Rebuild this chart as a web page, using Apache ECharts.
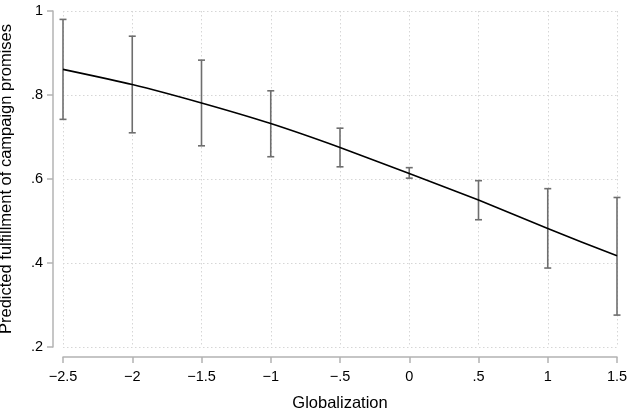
<!DOCTYPE html>
<html>
<head>
<meta charset="utf-8">
<script src="https://cdn.jsdelivr.net/npm/echarts@6/dist/echarts.min.js"></script>
<style>
  html, body { margin: 0; padding: 0; background: #fff; }
  #chart { width: 628px; height: 411px; }
</style>
</head>
<body>
<div id="chart"></div>
<script>
// predicted values with 95% CIs over globalization
const globalization = [-2.5, -2, -1.5, -1, -0.5, 0, 0.5, 1, 1.5]
const predicted = [0.861, 0.825, 0.781, 0.732, 0.675, 0.613, 0.550, 0.482, 0.417]
const ciLower = [0.742, 0.710, 0.679, 0.653, 0.629, 0.602, 0.503, 0.388, 0.276]
const ciUpper = [0.980, 0.940, 0.883, 0.810, 0.721, 0.627, 0.596, 0.577, 0.556]

const FONT = '"Liberation Sans", Arial, Helvetica, sans-serif'

// stata-style labels: drop leading zero, real minus sign
const fmt = (v) => {
  let s = String(Math.round(Math.abs(v) * 100) / 100)
  if (s.startsWith('0.')) s = s.slice(1)
  return (v < 0 ? '\u2212' : '') + s
}

const chart = echarts.init(document.getElementById('chart'))

const axisCommon = {
  axisLine: { show: true, onZero: false, lineStyle: { color: '#b3b3b3', width: 1.5 } },
  axisTick: { show: true, length: 6, lineStyle: { color: '#b3b3b3', width: 1.5 } },
  splitLine: { show: true, lineStyle: { color: '#d6d6d6', type: [1.5, 2.5], width: 1 } },
  nameTextStyle: { fontFamily: FONT, fontSize: 16.5, color: '#000' }
}

chart.setOption({
  animation: false,
  grid: { left: 63, right: 11, top: 11, bottom: 64, containLabel: false, outerBoundsMode: 'none' },
  xAxis: {
    type: 'value',
    min: -2.5, max: 1.5, interval: 0.5,
    offset: 10,
    name: 'Globalization',
    nameLocation: 'middle',
    nameGap: 38,
    ...axisCommon,
    axisLabel: { margin: 12, fontFamily: FONT, fontSize: 14.5, color: '#000', formatter: fmt, showMinLabel: true, showMaxLabel: true }
  },
  yAxis: {
    type: 'value',
    min: 0.2, max: 1, interval: 0.2,
    offset: 10,
    name: 'Predicted fulfillment of campaign promises',
    nameLocation: 'middle',
    nameGap: 38,
    ...axisCommon,
    axisLabel: { margin: 10, fontFamily: FONT, fontSize: 14.5, color: '#000', formatter: fmt }
  },
  series: [
    {
      type: 'custom',
      data: globalization.map((x, i) => [x, ciLower[i], ciUpper[i]]),
      renderItem: (params, api) => {
        const lo = api.coord([api.value(0), api.value(1)])
        const hi = api.coord([api.value(0), api.value(2)])
        const cap = 3.5
        const style = { stroke: '#6e6e6e', lineWidth: 1.6 }
        return {
          type: 'group',
          children: [
            { type: 'line', shape: { x1: lo[0], y1: lo[1], x2: hi[0], y2: hi[1] }, style },
            { type: 'line', shape: { x1: hi[0] - cap, y1: hi[1], x2: hi[0] + cap, y2: hi[1] }, style },
            { type: 'line', shape: { x1: lo[0] - cap, y1: lo[1], x2: lo[0] + cap, y2: lo[1] }, style }
          ]
        }
      },
      z: 2
    },
    {
      type: 'line',
      data: globalization.map((x, i) => [x, predicted[i]]),
      showSymbol: false,
      smooth: 0.2,
      lineStyle: { color: '#000', width: 1.6 },
      z: 3
    }
  ]
})
</script>
</body>
</html>
